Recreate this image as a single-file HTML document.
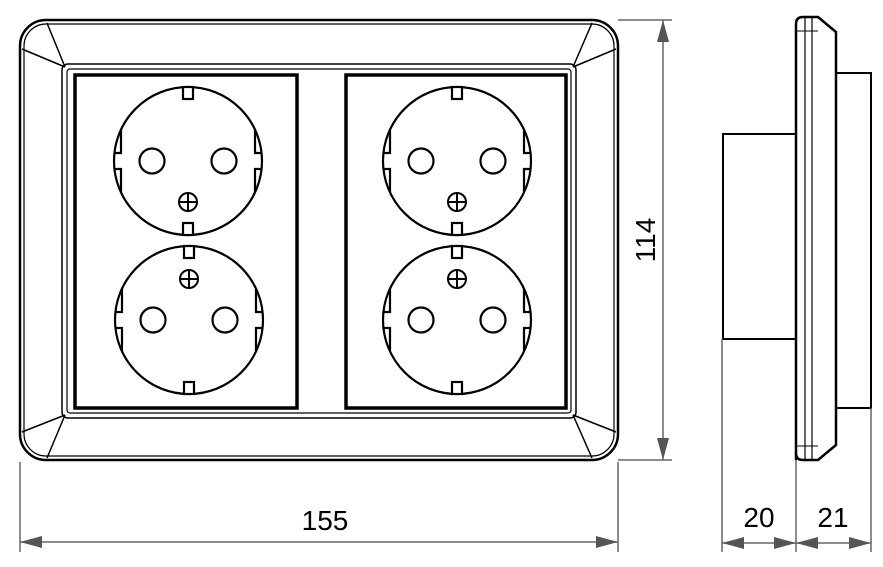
<!DOCTYPE html>
<html><head><meta charset="utf-8"><style>
html,body{margin:0;padding:0;background:#fff;width:883px;height:567px;overflow:hidden}
text{font-family:"Liberation Sans",sans-serif;font-size:28px;fill:#000}
</style></head><body>
<svg width="883" height="567" viewBox="0 0 883 567" xmlns="http://www.w3.org/2000/svg">
<defs>
<g id="sock" fill="none" stroke="#000" stroke-width="2.2">
<circle cx="0" cy="0" r="74"/>
<circle cx="-36" cy="0" r="12.5"/>
<circle cx="36" cy="0" r="12.5"/>
<path d="M-67,-31 V-8 H-74 M-67,31 V8 H-74 M67,-31 V-8 H74 M67,31 V8 H74"/>
<rect x="-5" y="-74" width="10" height="12" fill="#fff"/>
<rect x="-5" y="62" width="10" height="12" fill="#fff"/>
</g>
<g id="scr" fill="none" stroke="#000" stroke-width="2"><circle r="9"/><path d="M-9,0H9M0,-9V9"/></g>
</defs>
<g fill="none" stroke="#000">
<rect x="20" y="20" width="598" height="440" rx="26" stroke-width="2.5"/>
<rect x="24" y="24" width="590" height="432" rx="22" stroke-width="1.2"/>
<rect x="62" y="64" width="514" height="354" rx="6" stroke-width="1.5"/>
<rect x="67" y="69" width="504" height="344" rx="3" stroke-width="1.2"/>
<path d="M65,67 L47,23 M65,67 L22,49 M573,67 L592,23 M573,67 L616,49 M65,415 L47,458 M65,415 L22,432 M573,415 L592,458 M573,415 L616,432" stroke-width="1.5"/>
<rect x="75" y="75" width="222" height="333" stroke-width="3.5"/>
<rect x="346" y="75" width="220" height="333" stroke-width="3.5"/>
</g>
<use href="#sock" x="188" y="161"/>
<use href="#sock" x="189" y="320"/>
<use href="#sock" x="457" y="161"/>
<use href="#sock" x="457" y="320"/>
<use href="#scr" x="188" y="202"/>
<use href="#scr" x="189" y="279"/>
<use href="#scr" x="457" y="202"/>
<use href="#scr" x="457" y="279"/>
<g fill="none" stroke="#000">
<path d="M796,460 V24 Q796,17 803,17 H818 L836,32 V445 L818,460 H803 Q796,460 796,453" stroke-width="2.5"/>
<path d="M805,18 V459 M812,18 V459" stroke-width="1.2"/>
<path d="M797,31 H818 M797,446 H818" stroke-width="1"/>
<rect x="723" y="134" width="73" height="205" stroke-width="2"/>
<path d="M836,73 H871 V408 H836" stroke-width="2"/>
</g>
<g stroke="#666" stroke-width="1.5" fill="none">
<path d="M20,462 V552 M618,462 V552 M20,542 H618"/>
<path d="M618,20 H672 M618,460 H672 M663,20 V460"/>
<path d="M722,339 V552 M796,460 V552 M871,408 V552 M722,543 H871"/>
</g>
<g fill="#555">
<path d="M20,542 l22,-6 v12z M618,542 l-22,-6 v12z"/>
<path d="M663,20 l-6,22 h12z M663,460 l-6,-22 h12z"/>
<path d="M722,543 l22,-6 v12z M796,543 l-22,-6 v12z M796,543 l22,-6 v12z M871,543 l-22,-6 v12z"/>
</g>
<text x="325" y="530" text-anchor="middle">155</text>
<text transform="translate(655,240) rotate(-90)" text-anchor="middle">114</text>
<text x="759" y="527" text-anchor="middle">20</text>
<text x="833" y="527" text-anchor="middle">21</text>
</svg>
</body></html>
